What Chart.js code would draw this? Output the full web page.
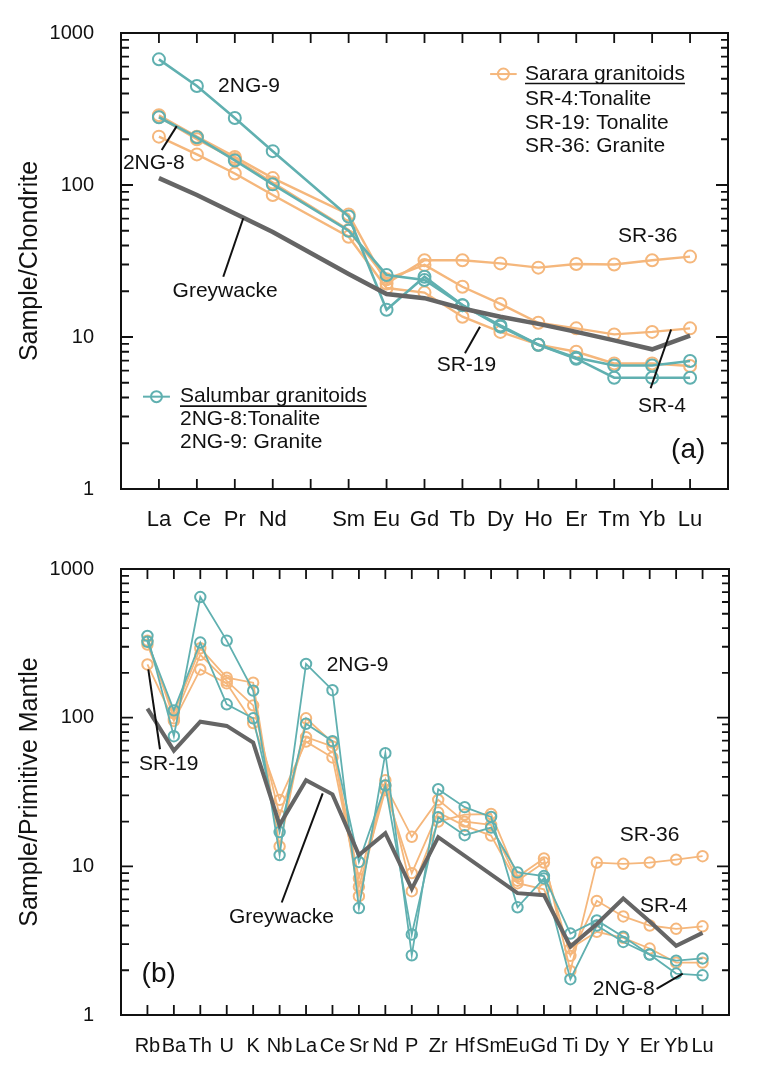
<!DOCTYPE html>
<html>
<head>
<meta charset="utf-8">
<script src="https://cdn.jsdelivr.net/npm/chart.js@4.4.1/dist/chart.umd.min.js"></script>
<style>
html,body{margin:0;padding:0;background:#fff;}
#wrap{position:relative;width:759px;height:1076px;}
canvas{position:absolute;left:0;}
</style>
</head>
<body>
<div id="wrap">
<canvas id="ca" width="759" height="538" style="top:0"></canvas>
<canvas id="cb" width="759" height="538" style="top:538px"></canvas>
</div>
<script>
// ---------- Panel (a): chondrite-normalised REE ----------
const reeCats = ['La','Ce','Pr','Nd','','Sm','Eu','Gd','Tb','Dy','Ho','Er','Tm','Yb','Lu'];
const sr4A  = [280,200,148,104,null,50.6,24,29.8,21.4,16.5,12.4,11.4,10.4,10.8,11.4];
const sr19A = [208,159,119,86,null,45.7,21,19.6,13.6,10.8,8.9,8.0,6.7,6.7,6.45];
const sr36A = [288,208,153,111,null,64,22.5,32,32,30.5,28.6,30.2,30,32,33.8];
const ng8A  = [279,206,145,101,null,50,25.6,23.7,16.2,11.7,8.9,7.2,5.4,5.4,5.4];
const ng9A  = [671,448,276,167,null,62,15.1,24.9,16.2,11.9,8.9,7.3,6.5,6.5,6.95];
const gwA   = [111,86,65,49,null,26,19.2,18,15.4,13.6,12.2,10.8,9.5,8.3,10.2];

// ---------- Panel (b): primitive-mantle-normalised spider ----------
const pmCats = ['Rb','Ba','Th','U','K','Nb','La','Ce','Sr','Nd','P','Zr','Hf','Sm','Eu','Gd','Ti','Dy','Y','Er','Yb','Lu'];
const sr4B  = [330,99,265,177,121,22,74,64,8.3,35,15.8,28,20,19,8.0,10.6,2.5,5.86,4.6,4.0,3.8,3.95];
const sr19B = [228,95,211,170,92,28,69,54,7.3,32.6,9.0,23,18.7,16.1,7.7,7.0,2.8,3.63,3.3,2.8,2.25,2.25];
const sr36B = [310,107,293,186,172,13.6,99,68,6.3,37.9,6.8,20,22.3,22.5,8.5,11.3,1.98,10.6,10.4,10.6,11.1,11.7];
const ng8B  = [324,112,320,123,99,17,91,69.5,10.7,35,3.48,21.4,16.2,18.2,9.1,8.6,3.53,4.33,3.36,2.55,1.9,1.85];
const ng9B  = [355,75,648,330,152,11.9,230,153,5.24,57.7,2.52,33,25,21.5,5.3,8.3,1.74,4.0,3.1,2.55,2.32,2.4];
const gwB   = [115,60,94,88,68,19,38,30.5,11.9,16.7,7.06,15.7,null,null,6.6,6.4,2.89,4.1,6.07,4.26,2.92,3.57];

const yTicks = [1,10,100,1000];

const TEAL = '#60b0b0';
const ORANGE = '#f5b77c';
const GREY = '#656565';
const FONT = "'Liberation Sans', Arial, Helvetica, sans-serif";

// annotations in data units (category index, value)
const annA = {
  texts: [
    {t:'2NG-9', i:1.56, v:448},
    {t:'2NG-8', i:-0.95, v:140},
    {t:'Greywacke', i:0.36, v:19.9},
    {t:'SR-36', i:12.1, v:45.7},
    {t:'SR-19', i:7.32, v:6.54},
    {t:'SR-4', i:12.63, v:3.48},
    {t:'(a)', i:13.5, v:1.81, size:28}
  ],
  lines: [
    [0.073,170,0.468,244],
    [1.696,24.9,2.223,60.4],
    [8.067,7.81,8.462,11.7],
    [12.96,4.6,13.5,11.2]
  ],
  legends: [
    {color:ORANGE, i0:8.73, i1:9.43, ti:9.65, rows:[['Sarara granitoids',537],['SR-4:Tonalite',366],['SR-19: Tonalite',255],['SR-36: Granite',179]]},
    {color:TEAL, i0:-0.42, i1:0.29, ti:0.555, rows:[['Salumbar granitoids',4.05],['2NG-8:Tonalite',2.87],['2NG-9: Granite',2.02]]}
  ]
};
const annB = {
  texts: [
    {t:'2NG-9', i:6.78, v:225},
    {t:'SR-19', i:-0.32, v:48.8},
    {t:'Greywacke', i:3.085, v:4.55},
    {t:'SR-36', i:17.87, v:16.1},
    {t:'SR-4', i:18.63, v:5.43},
    {t:'2NG-8', i:16.85, v:1.5},
    {t:'(b)', i:-0.22, v:1.88, size:28}
  ],
  lines: [
    [0.475,61.3,0.033,211],
    [5.08,5.71,6.63,31.0],
    [19.26,1.5,20.25,1.9]
  ],
  legends: []
};

function ds(label, arr, color, lw, radius){
  return {
    label, data: arr.map((v,i)=>({x:i,y:v})),
    borderColor: color, backgroundColor:'rgba(0,0,0,0)',
    borderWidth: lw, pointRadius: radius, pointBorderWidth: 2,
    pointBorderColor: color, pointBackgroundColor:'rgba(0,0,0,0)',
    pointHoverRadius: radius, spanGaps:true, tension:0, fill:false
  };
}

const decorPlugin = {
  id:'decor',
  afterDraw(chart){
    const o = chart.options.plugins.decor;
    const ctx = chart.ctx, a = chart.chartArea, xs = chart.scales.x, ys = chart.scales.y;
    ctx.save();
    ctx.strokeStyle = '#111'; ctx.lineWidth = 2;
    ctx.strokeRect(a.left, a.top, a.right-a.left, a.bottom-a.top);
    ctx.lineWidth = 1.8;
    ctx.beginPath();
    o.cats.forEach((c,i)=>{
      const x = xs.getPixelForValue(i);
      ctx.moveTo(x, a.bottom); ctx.lineTo(x, a.bottom-10);
      ctx.moveTo(x, a.top); ctx.lineTo(x, a.top+10);
    });
    for (let d=1; d<=1000; d*=10){
      const y = ys.getPixelForValue(d);
      ctx.moveTo(a.left, y); ctx.lineTo(a.left+12, y);
      ctx.moveTo(a.right, y); ctx.lineTo(a.right-12, y);
      if (d<1000){
        for (let m=2;m<=9;m++){
          const yy = ys.getPixelForValue(m*d);
          ctx.moveTo(a.left, yy); ctx.lineTo(a.left+8, yy);
          ctx.moveTo(a.right, yy); ctx.lineTo(a.right-7, yy);
        }
      }
    }
    ctx.stroke();
    // annotations
    const ann = o.ann;
    ctx.fillStyle = '#111';
    ctx.textBaseline = 'middle'; ctx.textAlign = 'left';
    ann.texts.forEach(t=>{
      ctx.font = (t.size||21)+'px '+FONT;
      ctx.fillText(t.t, xs.getPixelForValue(t.i), ys.getPixelForValue(t.v));
    });
    ctx.strokeStyle = '#111'; ctx.lineWidth = 2;
    ann.lines.forEach(l=>{
      ctx.beginPath();
      ctx.moveTo(xs.getPixelForValue(l[0]), ys.getPixelForValue(l[1]));
      ctx.lineTo(xs.getPixelForValue(l[2]), ys.getPixelForValue(l[3]));
      ctx.stroke();
    });
    ann.legends.forEach(L=>{
      const y0 = ys.getPixelForValue(L.rows[0][1]);
      const x0 = xs.getPixelForValue(L.i0), x1 = xs.getPixelForValue(L.i1);
      ctx.strokeStyle = L.color; ctx.lineWidth = 2;
      ctx.beginPath(); ctx.moveTo(x0,y0); ctx.lineTo(x1,y0); ctx.stroke();
      ctx.beginPath(); ctx.arc((x0+x1)/2, y0, 5.5, 0, Math.PI*2); ctx.stroke();
      ctx.font = '21px '+FONT;
      const tx = xs.getPixelForValue(L.ti);
      L.rows.forEach((r,k)=>{
        const y = ys.getPixelForValue(r[1]);
        ctx.fillStyle = '#111';
        ctx.fillText(r[0], tx, y);
        if (k===0){
          const w = ctx.measureText(r[0]).width;
          ctx.strokeStyle = '#111'; ctx.lineWidth = 1.6;
          ctx.beginPath(); ctx.moveTo(tx, y+9.5); ctx.lineTo(tx+w, y+9.5); ctx.stroke();
        }
      });
    });
    ctx.restore();
  }
};

function build(id, cats, sets, title, ann, pad, xh, tickFont, xPad){
  return new Chart(document.getElementById(id), {
    type:'line',
    data:{datasets:sets},
    options:{
      responsive:false, animation:false, devicePixelRatio:1,
      layout:{padding:pad},
      plugins:{legend:{display:false}, tooltip:{enabled:false}, decor:{cats, ann}},
      scales:{
        x:{type:'linear', min:-1, max:cats.length,
          grid:{display:false}, border:{display:false},
          afterBuildTicks:s=>{ s.ticks = cats.map((c,i)=>({value:i})); },
          afterFit:s=>{ s.height = xh; },
          ticks:{autoSkip:false, maxRotation:0, minRotation:0, padding:xPad, color:'#111',
            font:{family:FONT, size:tickFont}, callback:(v)=>cats[v]}
        },
        y:{type:'logarithmic', min:1, max:1000,
          grid:{display:false}, border:{display:false},
          afterBuildTicks:s=>{ s.ticks = yTicks.map(v=>({value:v})); },
          afterFit:s=>{ s.width = 121; },
          ticks:{padding:19, color:'#111', font:{family:FONT, size:20}, callback:(v)=>String(v)},
          title:{display:true, text:title, color:'#111', font:{family:FONT, size:25}, padding:{top:15,bottom:0}}
        }
      }
    },
    plugins:[decorPlugin]
  });
}

build('ca', reeCats, [
  ds('Greywacke', gwA, GREY, 4.5, 0),
  ds('2NG-9', ng9A, TEAL, 2.6, 6),
  ds('2NG-8', ng8A, TEAL, 2.6, 6),
  ds('SR-4', sr4A, ORANGE, 2.4, 6),
  ds('SR-19', sr19A, ORANGE, 2.4, 6),
  ds('SR-36', sr36A, ORANGE, 2.4, 6)
], 'Sample/Chondrite', annA, {left:0, top:33, right:31, bottom:0}, 49, 22, 10);

build('cb', pmCats, [
  ds('Greywacke', gwB, GREY, 4, 0),
  ds('2NG-9', ng9B, TEAL, 1.8, 5.2),
  ds('2NG-8', ng8B, TEAL, 1.8, 5.2),
  ds('SR-4', sr4B, ORANGE, 1.8, 5.2),
  ds('SR-19', sr19B, ORANGE, 1.8, 5.2),
  ds('SR-36', sr36B, ORANGE, 1.8, 5.2)
], 'Sample/Primitive Mantle', annB, {left:0, top:21, right:30, bottom:0}, 61, 20, 11);
</script>
</body>
</html>
